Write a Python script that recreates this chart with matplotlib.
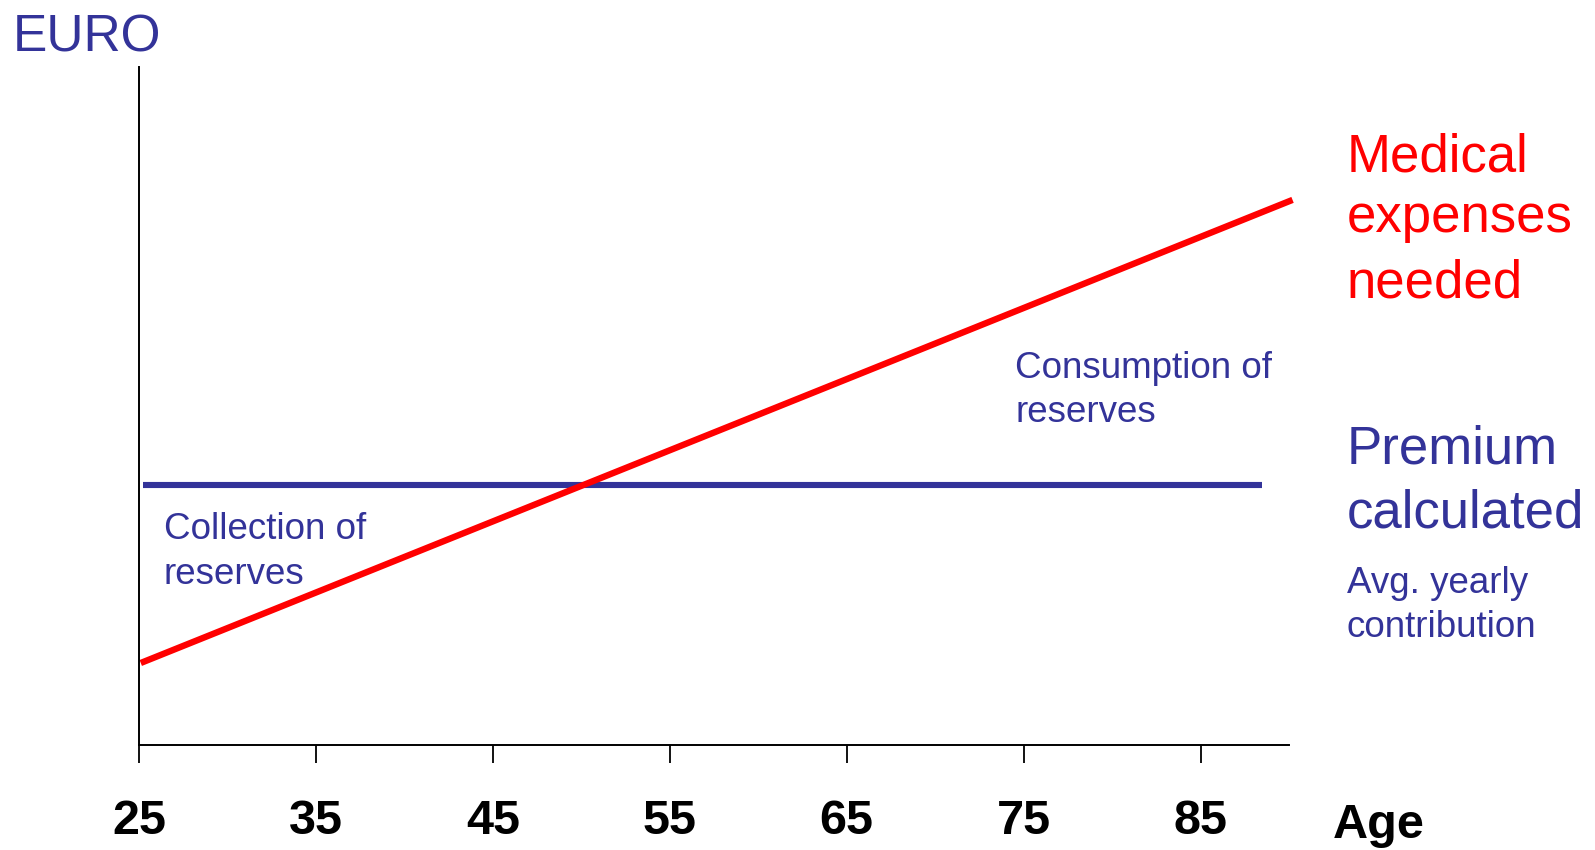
import matplotlib.pyplot as plt

ages = [25, 35, 45, 55, 65, 75, 85]
premium_x = [25.2, 88.5]
premium_y = [38.3, 38.3]
medical_x = [25.1, 90.2]
medical_y = [12.1, 80.4]

BLUE = "#333399"
RED = "#ff0000"
W, H = 1595, 850


def px(x, y):
    return x / W, 1 - y / H


plt.rcParams["font.family"] = ["Liberation Sans", "DejaVu Sans"]
fig = plt.figure(figsize=(15.95, 8.5), dpi=100)
ax = fig.add_axes([139 / W, 1 - 745 / H, (1289 - 139) / W, (745 - 67) / H])

ax.plot(premium_x, premium_y, color=BLUE, lw=4.4, solid_capstyle="butt")
ax.plot(medical_x, medical_y, color=RED, lw=4.6, solid_capstyle="butt", clip_on=False)

ax.set_xlim(25, 90)
ax.set_ylim(0, 100)
ax.set_yticks([])
ax.set_xticks(ages)
ax.set_xticklabels([str(a) for a in ages])
for lab in ax.get_xticklabels():
    lab.set_family(["Liberation Sans Narrow", "Liberation Sans"])
    lab.set_fontweight("bold")
    lab.set_fontsize(35)
ax.tick_params(axis="x", length=13, width=1.3, pad=26, direction="out")
for side in ["top", "right"]:
    ax.spines[side].set_visible(False)
for side in ["left", "bottom"]:
    ax.spines[side].set_linewidth(1.4)

fig.text(*px(1333, 838), "Age", family=["Liberation Sans Narrow", "Liberation Sans"],
         fontweight="bold", fontsize=35, va="baseline", ha="left")
fig.text(*px(13, 51), "EURO", color=BLUE, fontsize=37, va="baseline")

fig.text(*px(1347, 171), "Medical", color=RED, fontsize=38, va="baseline")
fig.text(*px(1347, 232), "expenses", color=RED, fontsize=38, va="baseline")
fig.text(*px(1347, 297), "needed", color=RED, fontsize=38, va="baseline")

fig.text(*px(1347, 464), "Premium", color=BLUE, fontsize=38, va="baseline")
fig.text(*px(1347, 528), "calculated", color=BLUE, fontsize=38, va="baseline")
fig.text(*px(1347, 593), "Avg. yearly", color=BLUE, fontsize=26.5, va="baseline")
fig.text(*px(1347, 637), "contribution", color=BLUE, fontsize=26.5, va="baseline")

fig.text(*px(1015, 378), "Consumption of", color=BLUE, fontsize=26.5, va="baseline")
fig.text(*px(1015, 422), "reserves", color=BLUE, fontsize=26.5, va="baseline")
fig.text(*px(164, 539), "Collection of", color=BLUE, fontsize=26.5, va="baseline")
fig.text(*px(164, 584), "reserves", color=BLUE, fontsize=26.5, va="baseline")

fig.savefig("out.png", dpi=100)
